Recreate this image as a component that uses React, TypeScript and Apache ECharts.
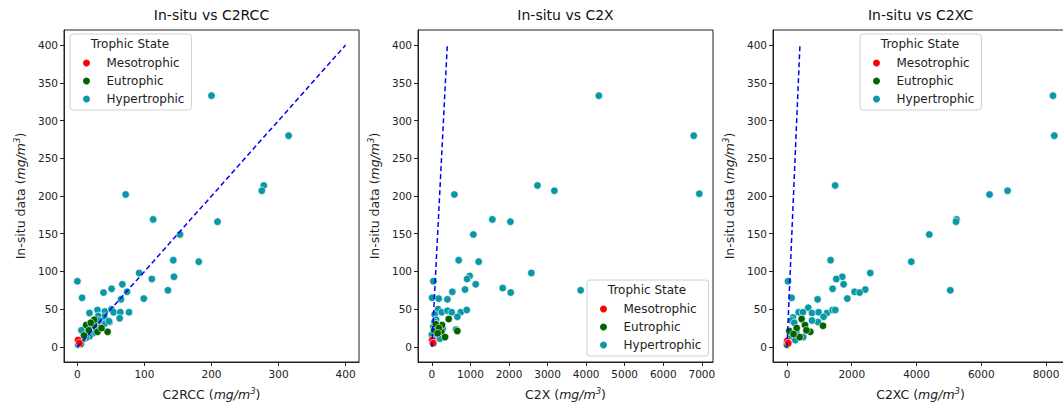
import React, { useEffect, useRef } from "react";
import * as echarts from "echarts";

// ---------- data ----------
const legendNames = ["Mesotrophic", "Eutrophic", "Hypertrophic"];
const panelTitles = ["In-situ vs C2RCC", "In-situ vs C2X", "In-situ vs C2XC"];
const xNames = ["C2RCC", "C2X", "C2XC"];

const xTicks1 = [0, 100, 200, 300, 400];
const xTicks2 = [0, 1000, 2000, 3000, 4000, 5000, 6000, 7000];
const xTicks3 = [0, 2000, 4000, 6000, 8000];
const yTicks = [0, 50, 100, 150, 200, 250, 300, 350, 400];

const oneToOne = [[0, 0], [400, 400]];

// Panel 1: C2RCC
const c2rccHyper = [
  [200, 333], [315, 280], [278, 214], [275, 207], [72, 202], [113, 169], [209, 166], [153, 149],
  [143, 115], [181, 113], [92, 98], [144, 93], [111, 90], [0, 87], [67, 83], [51, 77], [135, 75],
  [74, 73], [39, 72], [99, 64], [7, 65], [65, 63],
  [18, 45], [30, 49], [41, 47], [51, 50], [54, 46], [64, 46], [77, 46], [63, 38], [48, 33], [40, 40],
  [31, 41], [35, 29], [41, 31], [47, 34], [32, 35], [21, 26], [28, 24], [23, 18], [18, 14], [13, 12],
  [9, 16], [6, 22], [3, 7], [1, 3], [8, 10],
];
const c2rccEu = [[13, 29], [25, 29], [45, 20], [30, 20], [17, 22], [25, 36], [36, 25], [10, 15], [20, 32], [5, 4]];
const c2rccMeso = [[1, 9], [3, 5]];

// Panel 2: C2X
const c2xHyper = [
  [4330, 333], [6790, 280], [6935, 203], [2738, 214], [3177, 207], [583, 202], [1568, 169], [2036, 166],
  [1076, 149], [695, 115], [1213, 113], [2580, 98], [980, 94], [912, 90], [39, 87], [1136, 83], [1836, 78],
  [860, 76], [3858, 75], [531, 73], [2044, 72], [5, 65], [177, 64], [402, 63],
  [160, 50], [255, 46], [402, 48], [514, 46], [747, 46], [903, 49], [661, 40], [73, 43], [109, 36],
  [39, 27], [65, 33], [176, 16], [109, 11], [0, 16], [280, 24], [627, 23], [212, 11], [5, 9],
];
const c2xEu = [[436, 37], [264, 29], [57, 22], [246, 20], [661, 21], [342, 13], [100, 30], [180, 25], [40, 5], [150, 18]];
const c2xMeso = [[10, 9], [30, 5]];

// Panel 3: C2XC
const c2xcHyper = [
  [8216, 333], [8256, 280], [1487, 214], [6814, 207], [6258, 202], [5239, 169], [5220, 166], [4395, 149],
  [1347, 115], [3839, 113], [2573, 98], [1708, 93], [1523, 90], [30, 87], [1749, 83], [1408, 77],
  [5044, 75], [2419, 76], [2088, 73], [2243, 72], [1863, 64], [143, 65], [946, 63],
  [658, 52], [360, 46], [494, 46], [772, 45], [977, 46], [1235, 45], [1410, 49], [1492, 49], [1131, 40],
  [957, 33], [772, 35], [185, 39], [143, 35], [225, 32], [287, 20], [503, 13], [102, 11], [256, 9], [0, 7],
];
const c2xcEu = [[452, 37], [556, 29], [720, 20], [1112, 28], [71, 21], [390, 13], [0, 3], [300, 25], [200, 17], [600, 22]];
const c2xcMeso = [[10, 8], [40, 5]];

// ---------- styling ----------
const FONT = "DejaVu Sans";
const INK = "#222";
const COLORS: Record<string, string> = { Mesotrophic: "#ff0000", Eutrophic: "#006400", Hypertrophic: "#0a97a6" };

const grids = [
  { left: 64, top: 30, width: 295, height: 332 },
  { left: 418, top: 30, width: 295, height: 332 },
  { left: 773, top: 30, width: 295, height: 332 },
];
const xRanges = [[-20, 420], [-360, 7290], [-432, 8680]];
const xTickSets = [xTicks1, xTicks2, xTicks3];
const legendPos = [
  { left: 70, top: 34 },
  { left: 587, top: 280 },
  { left: 860, top: 34 },
];

const rich = {
  n: { fontSize: 12.5, fontFamily: FONT, color: INK },
  i: { fontSize: 12.5, fontFamily: FONT, fontStyle: "italic", color: INK },
  s: { fontSize: 8.5, fontFamily: FONT, fontStyle: "italic", color: INK, verticalAlign: "top", padding: [0, 0, 7, 0] },
};

export default function App() {
  const ref = useRef<HTMLDivElement>(null);
  useEffect(() => {
    if (!ref.current) return;
    const chart = echarts.init(ref.current, null, { renderer: "svg" });
    const panels = [
      [c2rccMeso, c2rccEu, c2rccHyper],
      [c2xMeso, c2xEu, c2xHyper],
      [c2xcMeso, c2xcEu, c2xcHyper],
    ];
    const series: any[] = [];
    panels.forEach((sets, p) => {
      [2, 1, 0].forEach((k) => {
        series.push({
          type: "scatter",
          name: legendNames[k],
          xAxisIndex: p,
          yAxisIndex: p,
          data: sets[k],
          symbol: "circle",
          symbolSize: 7.5,
          itemStyle: { color: COLORS[legendNames[k]], borderColor: "#fff", borderWidth: 0.6, opacity: 1 },
          z: 2,
        });
      });
      series.push({
        type: "line",
        name: "1:1",
        xAxisIndex: p,
        yAxisIndex: p,
        data: oneToOne,
        showSymbol: false,
        symbol: "none",
        lineStyle: { color: "#0000ff", width: 1.5, type: [5, 3] },
        z: 5,
      });
    });

    const fmt = (v: number) => String(v);
    const xAxis = grids.map((_, p) => ({
      type: "value",
      gridIndex: p,
      min: xRanges[p][0],
      max: xRanges[p][1],
      axisLine: { show: true, onZero: false, lineStyle: { color: INK, width: 1 } },
      axisTick: { show: true, length: 4, customValues: xTickSets[p], lineStyle: { color: INK } },
      axisLabel: { customValues: xTickSets[p], formatter: fmt, fontSize: 10.5, color: INK, fontFamily: FONT, margin: 6 },
      splitLine: { show: false },
      name: `{n|${xNames[p]} (}{i|mg/m}{s|3}{n|)}`,
      nameLocation: "middle",
      nameGap: 24,
      nameTextStyle: { rich, fontSize: 12.5, fontFamily: FONT, color: INK },
    }));
    const yAxis = grids.map((_, p) => ({
      type: "value",
      gridIndex: p,
      min: -20,
      max: 420,
      axisLine: { show: true, onZero: false, lineStyle: { color: INK, width: 1 } },
      axisTick: { show: true, length: 4, customValues: yTicks, lineStyle: { color: INK } },
      axisLabel: { customValues: yTicks, formatter: fmt, fontSize: 10.5, color: INK, fontFamily: FONT, margin: 6 },
      splitLine: { show: false },
      name: `{n|In-situ data (}{i|mg/m}{s|3}{n|)}`,
      nameLocation: "middle",
      nameGap: 36,
      nameTextStyle: { rich, fontSize: 12.5, fontFamily: FONT, color: INK },
    }));

    const legend = legendPos.map((pos) => ({
      left: pos.left,
      top: pos.top,
      orient: "vertical",
      data: legendNames,
      icon: "circle",
      itemWidth: 30,
      itemHeight: 9,
      itemGap: 4,
      padding: [22, 7, 4, 11],
      borderColor: "#d0d0d0",
      borderWidth: 1,
      borderRadius: 3,
      backgroundColor: "rgba(255,255,255,0.8)",
      selectedMode: false,
      textStyle: { fontSize: 12, fontFamily: FONT, color: INK, lineHeight: 14 },
      z: 10,
    }));

    const graphic: any[] = [];
    grids.forEach((g, p) => {
      graphic.push({
        type: "text",
        x: g.left + g.width / 2,
        y: 15,
        z: 20,
        style: {
          text: panelTitles[p],
          fontSize: 14,
          fontFamily: FONT,
          fill: "#111",
          textAlign: "center",
          align: "center",
          textVerticalAlign: "middle",
          verticalAlign: "middle",
        },
      });
    });
    legendPos.forEach((pos) => {
      graphic.push({
        type: "text",
        x: pos.left + 60,
        y: pos.top + 10,
        z: 20,
        style: {
          text: "Trophic State",
          fontSize: 12,
          fontFamily: FONT,
          fill: INK,
          textAlign: "center",
          align: "center",
          textVerticalAlign: "middle",
          verticalAlign: "middle",
        },
      });
    });

    chart.setOption({
      animation: false,
      backgroundColor: "#fff",
      grid: grids.map((g) => ({
        ...g,
        show: true,
        borderColor: INK,
        borderWidth: 1,
        backgroundColor: "transparent",
        containLabel: false,
        outerBoundsMode: "none",
      })),
      xAxis,
      yAxis,
      legend,
      series,
      graphic,
    });
    return () => chart.dispose();
  }, []);
  return <div ref={ref} style={{ position: "fixed", left: 0, top: 0, width: 1063, height: 404 }} />;
}
